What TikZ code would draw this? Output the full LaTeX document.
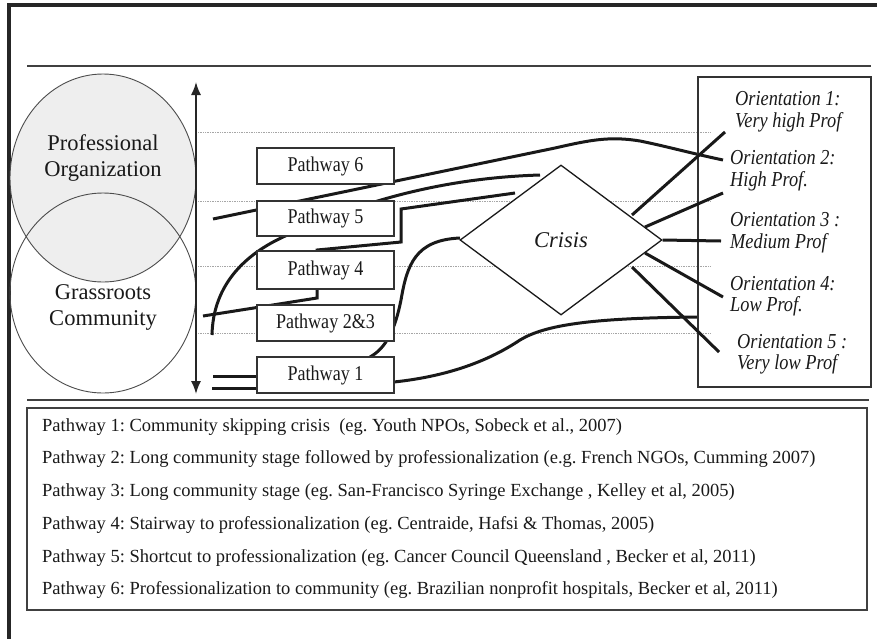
\documentclass[tikz,border=0pt]{standalone}
\usepackage{fontspec}
\setmainfont{Liberation Serif}
\newfontfamily\condf[FakeStretch=0.86]{Liberation Serif}
\usetikzlibrary{shapes.geometric,arrows.meta}
\frenchspacing
\tikzset{
  frameline/.style={line width=3.2pt, black!85},
  rulel/.style={line width=1.5pt, black!75},
  pbox/.style={draw=black!80, line width=1.8pt, fill=white, minimum width=137pt,
    minimum height=36pt, inner sep=0pt, font=\condf\fontsize{21}{24}\selectfont, text=black!90},
  conn/.style={line width=3pt, black!90},
  spoke/.style={line width=3pt, black!90},
  guide/.style={densely dotted, gray!70, line width=0.7pt},
  orient/.style={anchor=west, align=left, inner sep=0pt,
    font=\condf\fontsize{21.3}{21.5}\selectfont\itshape, text=black!90},
  legendtext/.style={anchor=west, inner sep=0pt,
    font=\fontsize{18.5}{21}\selectfont, text=black!90},
  circlab/.style={align=center, inner sep=0pt,
    font=\fontsize{22.5}{26}\selectfont, text=black!90},
  circ/.style={ellipse, draw=black!70, line width=0.9pt, inner sep=0pt,
    minimum width=186pt},
}
\begin{document}
\begin{tikzpicture}[x=1pt,y=-1pt]
\useasboundingbox (0,0) rectangle (877,638);
% outer frame (cut by the page on the right and bottom)
\draw[frameline] (9,650) -- (9,5) -- (890,5);
% rules
\coordinate (r1a) at (27,66);  \coordinate (r1b) at (871,66);
\coordinate (r2a) at (27,400); \coordinate (r2b) at (869,400);
\draw[rulel] (r1a) -- (r1b);
\draw[rulel] (r2a) -- (r2b);

% circles
\node[circ, fill=gray!13, minimum height=208pt] (po) at (103,178) {};
\node[circ, minimum height=200pt] (gc) at (103,293) {};
\node[circlab] (polab) at (103,158) {Professional\\Organization};
\node[circlab] (gclab) at (103,307) {Grassroots\\Community};

% vertical double arrow
\coordinate (axt) at (196,82);
\coordinate (axb) at (196,394);
\draw[line width=1.6pt, black!85, {Latex[length=13pt,width=10pt]}-{Latex[length=13pt,width=10pt]}] (axt) -- (axb);

% dotted guides
\foreach \yy in {132,201,266,333} {
  \draw[guide] (198,\yy) -- (710,\yy);
}

% connectors
\coordinate (p6s) at (213,219);
\coordinate (o2e) at (723,160);
\draw[conn] (p6s) -- (555,148) .. controls (590,140) and (610,136) .. (640,141)
  .. controls (665,146) and (690,153) .. (o2e);

\coordinate (p5s) at (212,335);
\coordinate (p5e) at (540,175);
\draw[conn] (p5s) .. controls (213,285) and (245,250) .. (300,230)
  .. controls (360,203) and (440,178) .. (p5e);

\coordinate (p4s) at (203,316);
\coordinate (p4e) at (515,193);
\draw[conn] (p4s) -- (317,298) -- (317,250) -- (401,242) -- (401,209) -- (p4e);

\coordinate (p23s) at (370,357);
\draw[conn] (p23s) .. controls (386,348) and (395,330) .. (401,300)
  .. controls (407,265) and (415,240) .. (460,238);

\coordinate (p1s) at (394,382);
\coordinate (p1e) at (698,317);
\draw[conn] (p1s) .. controls (450,376) and (490,360) .. (520,340)
  .. controls (545,325) and (590,318) .. (p1e);

\coordinate (g1) at (213,376);
\coordinate (g2) at (212,388);

% pathway boxes
\node[pbox] (b6) at (325.5,166) {Pathway 6};
\node[pbox, minimum height=35pt] (b5) at (325.5,218.5) {Pathway 5};
\node[pbox, minimum height=38pt] (b4) at (325.5,270) {Pathway 4};
\node[pbox] (b23) at (325.5,323) {Pathway 2\&3};
\node[pbox] (b1) at (325.5,375) {Pathway 1};

\draw[conn] (g1) -- (g1 -| b1.west);
\draw[conn] (g2) -- (g2 -| b1.west);

% crisis diamond
\node[diamond, draw=black!90, line width=1.3pt, fill=white, minimum width=202pt,
  minimum height=150pt, inner sep=0pt, font=\fontsize{22.5}{26}\selectfont\itshape,
  text=black!90] (d) at (561,240) {Crisis};

% orientation box
\node[draw=black!80, line width=1.6pt, minimum width=173pt, minimum height=310pt,
  inner sep=0pt] (rb) at (784.5,232) {};
\node[orient] (o1) at (735,111.5) {Orientation 1:\\Very high Prof};
\node[orient] (o2) at (730,170.5) {Orientation 2:\\High Prof.};
\node[orient] (o3) at (730,232.5) {Orientation 3 :\\Medium Prof};
\node[orient] (o4) at (730,296) {Orientation 4:\\Low Prof.};
\node[orient] (o5) at (737,354) {Orientation 5 :\\Very low Prof};

% spokes from the crisis
\coordinate (s1a) at (632,215); \coordinate (s1b) at (725,132);
\coordinate (s2a) at (645,227); \coordinate (s2b) at (723,193);
\coordinate (s3b) at (721,241);
\coordinate (s4a) at (645,253); \coordinate (s4b) at (723,297);
\coordinate (s5a) at (632,267); \coordinate (s5b) at (719,352);
\draw[spoke] (s1a) -- (s1b);
\draw[spoke] (s2a) -- (s2b);
\draw[spoke] (d.east) -- (s3b);
\draw[spoke] (s4a) -- (s4b);
\draw[spoke] (s5a) -- (s5b);

% legend
\node[draw=black!75, line width=1.5pt, minimum width=840pt, minimum height=202pt,
  inner sep=0pt] (lg) at (447,509) {};
\node[legendtext] (l1) at (42,427) {Pathway 1: Community skipping crisis~ (eg. Youth NPOs, Sobeck et al., 2007)};
\node[legendtext] (l2) at (42,459) {Pathway 2: Long community stage followed by professionalization (e.g. French NGOs, Cumming 2007)};
\node[legendtext] (l3) at (42,492) {Pathway 3: Long community stage (eg. San-Francisco Syringe Exchange , Kelley et al, 2005)};
\node[legendtext] (l4) at (42,525) {Pathway 4: Stairway to professionalization (eg. Centraide, Hafsi \& Thomas, 2005)};
\node[legendtext] (l5) at (42,558) {Pathway 5: Shortcut to professionalization (eg. Cancer Council Queensland , Becker et al, 2011)};
\node[legendtext] (l6) at (42,590) {Pathway 6: Professionalization to community (eg. Brazilian nonprofit hospitals, Becker et al, 2011)};
\end{tikzpicture}
\end{document}
